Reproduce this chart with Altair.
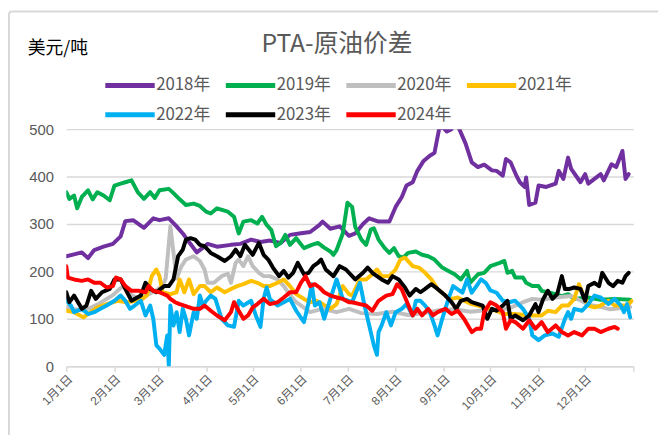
import json
import altair as alt
import pandas as pd

years = ["2018年", "2019年", "2020年", "2021年", "2022年", "2023年", "2024年"]
colors = ["#7030A0", "#00B050", "#BFBFBF", "#FFC000", "#00B0F0", "#000000", "#FF0000"]

month_days = [0, 31, 59, 90, 120, 151, 181, 212, 243, 273, 304, 334, 365]
month_labels = ["1月1日", "2月1日", "3月1日", "4月1日", "5月1日", "6月1日", "7月1日",
                "8月1日", "9月1日", "10月1日", "11月1日", "12月1日", ""]
y_ticks = [0, 100, 200, 300, 400, 500]

days_2018 = [0, 5, 10, 14, 18, 24, 30, 35, 38, 43, 50, 56, 60, 66, 71, 75, 79, 84, 88,
             91, 97, 106, 112, 119, 125, 131, 138, 144, 150, 157, 163, 165, 170, 176, 182,
             186, 191, 195, 201, 208, 212, 216, 219, 223, 226, 230, 234, 237, 240, 242, 245,
             248, 250, 253, 257, 261, 265, 269, 274,
             277, 281, 283, 286, 288, 290, 292, 295, 296, 298, 302, 304, 309, 315, 317, 320,
             323, 325, 331, 334, 336, 340, 344, 346, 351, 354, 358, 360, 362]
vals_2018 = [232, 236, 240, 228, 245, 252, 258, 274, 306, 308, 292, 312, 308, 312, 295, 280, 262, 240, 250,
             258, 252, 256, 258, 267, 262, 265, 260, 277, 280, 283, 298, 305, 290, 295, 275,
             280, 300, 312, 305, 305, 336, 357, 381, 388, 412, 433, 444, 450, 500, 505, 495,
             500, 530, 500, 470, 430, 420, 425, 413,
             412, 402, 437, 430, 415, 400, 388, 378, 398, 340, 345, 381, 378, 385, 412, 395,
             440, 416, 388, 405, 385, 395, 405, 392, 426, 420, 454, 395, 405]

days_2019 = [0, 2, 5, 7, 10, 14, 17, 20, 24, 28, 31, 35, 38, 42, 46, 50, 54, 57, 60, 66, 69, 73, 77, 82, 86, 90,
             93, 97, 104, 108, 111, 114, 119, 123, 126, 129, 132, 135, 138, 141, 144, 148, 153, 158, 162,
             166, 170, 172, 174, 178, 181, 184, 186, 190, 193, 196, 198, 201, 205, 208, 211, 214, 217, 220,
             225, 229, 233, 237, 242, 246, 250, 254, 258, 260, 265, 269, 273, 279, 282, 284, 287, 289, 294,
             296, 300, 304, 306, 310, 315, 319, 323, 327, 336, 344, 353, 363]
vals_2019 = [367, 353, 360, 333, 357, 371, 352, 367, 360, 350, 381, 385, 388, 392, 367, 353, 367, 355, 371, 374,
             365, 352, 340, 343, 338, 326,
             322, 333, 326, 315, 280, 305, 308, 301, 315, 298, 287, 253, 260, 277, 256, 270, 249, 256, 260,
             250, 242, 235, 245, 280, 345, 336, 294, 267, 256, 288, 291, 267, 249, 239, 249, 232, 229, 239,
             242, 235, 232, 225, 208, 201, 194, 183, 201, 176, 194, 197, 211, 218, 222, 197, 201, 187, 187,
             176, 169, 169, 159, 156, 152, 148, 152, 142, 145, 140, 142, 140]

days_2020 = [0, 5, 10, 15, 20, 25, 30, 35, 38, 42, 48, 52, 58, 62, 64, 67, 69, 71, 74, 77, 82, 86,
             89, 91, 95, 100, 104, 106, 109, 111, 114, 117, 120, 124, 127, 131, 136, 140, 144, 148, 157,
             165, 174, 182, 190, 200, 210, 220, 230, 240, 250, 260, 270, 280, 285, 294, 300, 306, 315,
             325, 330, 336, 344, 350, 363]
vals_2020 = [125, 120, 118, 122, 130, 140, 150, 165, 170, 150, 140, 150, 160, 170, 185, 295, 240, 185, 210, 225,
             232, 222,
             204, 176, 176, 190, 195, 176, 218, 225, 211, 232, 211, 197, 190, 190, 183, 169, 150, 135, 114,
             121, 114, 121, 112, 110, 115, 108, 112, 118, 120, 115, 118, 120, 122, 135, 142, 140, 145,
             148, 140, 130, 125, 120, 125]

days_2021 = [0, 5, 11, 14, 20, 26, 33, 39, 48, 52, 55, 58, 60, 62, 67, 71, 73, 76, 79, 82, 86,
             89, 93, 97, 102, 106, 110, 114, 119, 123, 127, 131, 136, 140, 144, 148, 153, 157, 161, 165,
             170, 174, 178, 182,
             184, 189, 193, 197, 200, 203, 208, 212, 215, 218, 223, 227, 231, 235, 239, 244, 248, 252,
             256, 261, 265, 269, 273, 279,
             281, 289, 298, 306, 310, 315, 319, 323, 327, 330, 333, 336, 340, 344, 349, 353, 357, 361, 364]
vals_2021 = [117, 114, 103, 110, 124, 131, 138, 135, 140, 150, 190, 204, 190, 156, 152, 156, 183, 156, 183, 152, 169,
             169, 156, 166, 156, 163, 169, 173, 180, 176, 169, 169, 176, 183, 169, 152, 142, 135, 138, 131,
             121, 131, 169, 152,
             149, 183, 183, 194, 204, 190, 190, 204, 225, 229, 211, 208, 197, 183, 163, 149, 142, 145,
             138, 131, 128, 124, 121, 114,
             110, 110, 107, 107, 117, 114, 128, 128, 142, 173, 149, 128, 124, 128, 138, 128, 128, 128, 138]

days_2022 = [0, 3, 5, 10, 14, 18, 22, 26, 31, 35, 38, 41, 44, 48, 51, 54, 56, 58, 60, 63, 65, 66, 67, 69,
             71, 73, 75, 77, 79, 82, 84, 86, 88, 90,
             93, 96, 100, 104, 108, 111, 114, 119, 122, 125, 127, 129, 131, 136, 140, 144, 148, 153, 156,
             158, 160, 163, 166, 170, 174, 178, 182,
             184, 189, 192, 195, 198, 200, 201, 203, 206, 209, 212, 216, 219, 223, 225, 228, 231, 234, 237,
             239, 242, 246, 249, 252, 255, 258, 261, 264, 267, 270, 273,
             277, 281, 285, 289, 294, 298, 300, 304, 308, 313, 317, 321, 323, 325, 327, 332, 336, 340, 344,
             349, 353, 357, 359, 361, 363]
vals_2022 = [138, 128, 114, 121, 110, 114, 121, 128, 138, 149, 138, 121, 128, 138, 107, 128, 100, 44, 37, 24,
             65, 0, 128, 86, 114, 72, 121, 100, 65, 114, 100, 149, 128, 138,
             149, 142, 100, 86, 83, 138, 128, 138, 107, 83, 142, 166, 142, 128, 135, 142, 117, 93, 135,
             173, 128, 135, 100, 142, 183, 142, 138,
             135, 176, 128, 86, 44, 24, 72, 86, 114, 86, 114, 121, 131, 107, 138, 138, 128, 114, 86,
             65, 100, 142, 169, 162, 155, 183, 155, 169, 183, 176, 160,
             155, 138, 135, 138, 121, 100, 65, 55, 65, 69, 62, 100, 114, 100, 121, 117, 131, 149, 145,
             131, 142, 128, 114, 131, 103]

days_2023 = [0, 2, 5, 10, 13, 16, 19, 23, 28, 31, 35, 38, 42, 48, 51, 54, 58, 63, 66, 69, 72, 75, 77, 80, 83, 86,
             89, 93, 97, 102, 106, 109, 112, 115, 120, 124, 127, 130, 133, 137, 140, 143, 146, 149, 153,
             156, 159, 162, 164, 167, 172, 176, 180,
             186, 191, 194, 197, 200, 203, 207, 210, 214, 218, 221, 225, 228, 231, 235, 239, 244, 248, 251,
             254, 258, 261, 265, 268, 271, 274,
             277, 281, 284, 286, 289, 294, 298, 302, 304, 307, 310, 313, 316, 319, 321, 324, 327, 331, 334,
             336, 340, 343, 345, 349, 352, 355, 358, 360, 362]
vals_2023 = [156, 135, 149, 121, 128, 159, 142, 156, 163, 183, 183, 163, 138, 149, 176, 163, 156, 169, 169, 183,
             232, 246, 267, 270, 267, 256,
             253, 239, 232, 222, 232, 246, 232, 256, 235, 260, 235, 225, 208, 190, 201, 187, 197, 218, 194,
             197, 211, 218, 225, 204, 190, 211, 204,
             183, 197, 208, 197, 190, 183, 176, 190, 183, 166, 149, 163, 156, 163, 173, 163, 149, 135, 121,
             138, 142, 135, 131, 128, 100, 121,
             117, 128, 138, 100, 107, 97, 107, 131, 114, 142, 159, 142, 152, 190, 163, 163, 166, 163, 138,
             169, 176, 169, 197, 176, 169, 180, 176, 190, 197]

days_2024 = [0, 1, 5, 10, 14, 18, 22, 26, 30, 32, 35, 38, 42, 47, 51, 53, 56, 60, 65, 67, 70, 73, 76, 82, 86,
             89, 93, 97, 102, 106, 108, 111, 114, 117, 120, 123, 127, 131, 136, 140, 144, 148, 151, 154,
             157, 160, 163, 166, 170, 174, 178, 182,
             184, 189, 193, 197, 201, 206, 210, 213, 216, 219, 223, 226, 229, 233, 236, 239, 244, 248, 252,
             256, 261, 264, 267, 269, 273,
             277, 281, 283, 286, 289, 294, 298, 302, 306, 310, 315, 319, 323, 327, 332, 336, 340, 344, 349,
             353, 355]
vals_2024 = [211, 187, 183, 180, 183, 176, 176, 166, 169, 187, 183, 169, 159, 159, 156, 169, 159, 156, 149, 142,
             135, 131, 128, 121, 121,
             128, 117, 107, 97, 114, 135, 117, 100, 107, 124, 131, 142, 131, 135, 145, 156, 156, 176, 190,
             169, 173, 166, 156, 149, 145, 142, 135,
             135, 131, 128, 117, 138, 149, 152, 173, 162, 138, 107, 121, 107, 121, 107, 114, 121, 110, 117,
             100, 72, 79, 79, 114, 135,
             128, 114, 79, 97, 93, 79, 97, 79, 93, 72, 86, 72, 65, 72, 65, 79, 79, 72, 79,
             83, 79]

series = [
    (years[0], days_2018, vals_2018),
    (years[1], days_2019, vals_2019),
    (years[2], days_2020, vals_2020),
    (years[3], days_2021, vals_2021),
    (years[4], days_2022, vals_2022),
    (years[5], days_2023, vals_2023),
    (years[6], days_2024, vals_2024),
]

rows = []
for order, (name, ds, vs) in enumerate(series):
    assert len(ds) == len(vs), name
    for d, v in zip(ds, vs):
        rows.append({"year": name, "day": d, "value": v, "k": order})
df = pd.DataFrame(rows)

label_expr = f"{json.dumps(month_labels, ensure_ascii=False)}[indexof({json.dumps(month_days)}, datum.value)]"

FONT = "Liberation Sans, Noto Sans CJK SC, sans-serif"
CJK = "Noto Sans CJK SC"

lines = alt.Chart(df).mark_line(
    strokeWidth=4, strokeJoin="round", strokeCap="round", clip=True
).encode(
    x=alt.X("day:Q",
            scale=alt.Scale(domain=[0, 365], nice=False, zero=False),
            axis=alt.Axis(values=month_days, labelExpr=label_expr, title=None, grid=False,
                          labelAngle=-45, labelFontSize=12, labelColor="#595959", labelFont=FONT,
                          domainColor="#D9D9D9", domainWidth=1.5, tickColor="#D9D9D9",
                          tickWidth=1.5, tickSize=5, labelPadding=2)),
    y=alt.Y("value:Q",
            scale=alt.Scale(domain=[0, 500], nice=False),
            axis=alt.Axis(values=y_ticks, title=None, domain=False, ticks=False,
                          gridColor="#D9D9D9", gridWidth=1.5, labelFontSize=15,
                          labelColor="#595959", labelFont=FONT, labelPadding=13)),
    color=alt.Color("year:N",
                    scale=alt.Scale(domain=years, range=colors),
                    legend=alt.Legend(orient="none", legendX=56, legendY=-53, columns=4,
                                      direction="horizontal",
                                      title=None, symbolType="M-5,0H5", symbolSize=100,
                                      symbolStrokeWidth=5, labelFontSize=17, labelFont=CJK,
                                      labelColor="#595959", labelOffset=18, columnPadding=5,
                                      rowPadding=9, padding=0)),
    detail="k:O",
)

title_text = alt.Chart(alt.Data(values=[{"t": "PTA-原油价差"}])).mark_text(
    font=CJK, fontSize=25, color="#595959", align="center", baseline="middle"
).encode(x=alt.value(274), y=alt.value(-86), text="t:N")

unit_text = alt.Chart(alt.Data(values=[{"t": "美元/吨"}])).mark_text(
    font=CJK, fontSize=18, color="#000000", align="left", baseline="middle"
).encode(x=alt.value(-39), y=alt.value(-81), text="t:N")

border = alt.Chart(alt.Data(values=[{"a": 1}])).mark_rect(
    fill="transparent", stroke="#D9D9D9", strokeWidth=2, cornerRadius=3
).encode(x=alt.value(-58), x2=alt.value(700), y=alt.value(-119), y2=alt.value(400))

chart = alt.layer(border, lines, title_text, unit_text).properties(
    width=574, height=240,
    padding={"left": 59, "top": 120, "right": 25, "bottom": 67},
    autosize="none",
    background="white",
).configure_view(stroke="transparent")

chart.save("out.html", embed_options={"renderer": "svg", "actions": False})
